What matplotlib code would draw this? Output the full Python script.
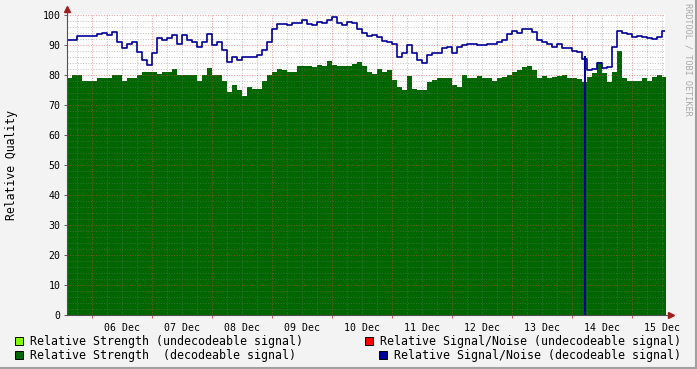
import numpy as np
import matplotlib
matplotlib.use('Agg')
import matplotlib.pyplot as plt
from matplotlib.patches import Rectangle
from matplotlib.lines import Line2D

plt.rcParams['font.family'] = ['DejaVu Sans Mono']

# ---- data (2-hour samples, time in days since 05 Dec 00:00) ----
start_day = 0.588
step_days = 2 / 24

strength_decodeable = [
    79, 80, 80, 78, 78, 78, 79, 79, 79, 80,
    80, 78, 79, 79, 80, 81, 81, 81, 80.5, 81,
    81, 82, 80, 80, 80, 80, 78, 80, 82.5, 80,
    80, 78, 74.5, 76.7, 75, 73, 76, 75.5, 75.5, 78,
    80, 81, 82, 81.7, 81, 81, 83, 83, 83, 82.8,
    83.3, 83, 84.8, 83.3, 83, 83, 83, 83.7, 84.4, 83,
    81, 80.5, 81.9, 81, 81.7, 78.3, 76, 75, 79.7, 75.5,
    75, 75, 77.8, 78.3, 78.9, 78.9, 78.9, 76.7, 76, 80,
    78.9, 78.9, 79.7, 78.9, 78.9, 78.1, 78.9, 79.4, 80, 81.1,
    81.7, 82.6, 83, 81.7, 78.9, 79.7, 78.9, 79.4, 79.7, 80,
    78.9, 78.9, 78.6, 77.8, 79.4, 80.6, 84.4, 80.6, 77.8, 81.1,
    88, 78.9, 78.1, 78.1, 78.1, 78.9, 78.1, 79.4, 80, 79.4,
]

snr_decodeable = [
    91.7, 91.7, 93, 93, 93, 93, 93.7, 94, 93.3, 94.5,
    91, 89, 90.5, 91, 87.8, 85, 83.3, 87.2, 92.2, 91.7,
    92.2, 93.3, 90.5, 93.3, 91.7, 91, 89.4, 91, 93.7, 90,
    91, 88.3, 84.4, 86, 85, 86, 86, 86, 86.7, 88.3,
    91, 95.2, 97, 97, 96.7, 97.4, 97.4, 98.3, 97, 96.7,
    97.8, 97.4, 98.3, 99.2, 97.2, 96.7, 97.8, 97.2, 95.5, 93.9,
    93, 93.3, 92.8, 91.4, 91, 90.5, 86, 87.4, 90, 87.2,
    85, 83.9, 86.7, 87.4, 87.4, 88.9, 89.2, 87.4, 89.4, 90,
    90.3, 90.5, 90, 90, 90.3, 90.3, 91.1, 91.7, 93.7, 94.8,
    94.1, 95.5, 95.5, 94.4, 91.7, 91.1, 90.5, 89.4, 90.5, 88.9,
    88.9, 88.1, 87.8, 85.2, 81.7, 81.9, 83.9, 82.2, 82.8, 89.4,
    94.7, 94.1, 93.7, 92.8, 93, 92.8, 92.2, 91.9, 92.8, 94.8,
]

# short drop-out of the S/N series to zero
snr_dropout_day = [9.222]
snr_dropout_from = [86.5]

day_labels = ['06 Dec', '07 Dec', '08 Dec', '09 Dec', '10 Dec',
              '11 Dec', '12 Dec', '13 Dec', '14 Dec', '15 Dec']

legend_items = [
    ('Relative Strength (undecodeable signal)', '#7FFF00'),
    ('Relative Strength  (decodeable signal)', '#006600'),
    ('Relative Signal/Noise (undecodeable signal)', '#FF0000'),
    ('Relative Signal/Noise (decodeable signal)', '#000099'),
]

W, H = 697, 369
fig = plt.figure(figsize=(W / 100, H / 100), dpi=100, facecolor='#F3F3F3')
x0, x1, yb, yt = 67, 665, 315, 13.5
ax = fig.add_axes([x0 / W, 1 - yb / H, (x1 - x0) / W, (yb - yt) / H])
ax.set_facecolor('white')
xmin = start_day
xmax = start_day + (x1 - x0) / 60.0
ax.set_xlim(xmin, xmax)
ax.set_ylim(0, 100.5)

n = len(strength_decodeable)
edges = start_day + np.arange(n + 1) * step_days
g = np.append(strength_decodeable, strength_decodeable[-1])
b = np.append(snr_decodeable, snr_decodeable[-1])
ax.fill_between(edges, 0, g, step='post', color='#006600', lw=0, zorder=1)

# grid (dotted, drawn over the area like rrdtool)
dots = (0, (1, 1.6))
minor_kw = dict(color='#7A7A7A', lw=0.72, ls=dots, alpha=0.45, zorder=2, snap=True)
major_kw = dict(color='#E04848', lw=0.72, ls=dots, alpha=0.55, zorder=2, snap=True)
for v in np.arange(2, 101, 2):
    ax.axhline(v, **(major_kw if v % 10 == 0 else minor_kw))
for d in np.arange(np.ceil(xmin * 4) / 4, xmax, 0.25):
    ax.axvline(d, **(major_kw if abs(d - round(d)) < 1e-6 else minor_kw))

ax.step(edges, b, where='post', color='#000099', lw=1.2, zorder=3)
ax.vlines(snr_dropout_day, 0, snr_dropout_from, color='#000099', lw=1.5, zorder=3)

for s in ax.spines.values():
    s.set_visible(False)

# ticks
ax.set_yticks(np.arange(0, 101, 10))
ax.set_yticklabels([str(v) for v in range(0, 101, 10)])
ax.tick_params(axis='y', length=2.5, width=0.7, color='#606060', pad=2, labelsize=7.1)
ax.set_xticks(np.arange(1, 11))
ax.set_xticklabels([''] * 10)
ax.set_xticks(np.arange(1.5, 11.0, 1.0), minor=True)
ax.set_xticklabels(day_labels, minor=True)
ax.tick_params(axis='x', which='major', length=2.5, width=0.7, color='#D06060')
ax.tick_params(axis='x', which='minor', length=0, pad=6, labelsize=7.1)

# axes lines with arrows
axis_c = '#505050'
fig.add_artist(Line2D([x0 / W, x0 / W], [1 - yb / H, 1 - 9 / H], color=axis_c, lw=0.8))
fig.add_artist(Line2D([x0 / W, 670 / W], [1 - yb / H, 1 - yb / H], color=axis_c, lw=0.8))
fig.add_artist(Line2D([x0 / W], [1 - 9 / H], marker='^', ms=4, color='#A02020', lw=0))
fig.add_artist(Line2D([671 / W], [1 - yb / H], marker='>', ms=4, color='#A02020', lw=0))

# labels
fig.text(12 / W, 1 - 165 / H, 'Relative Quality', rotation=90, ha='center', va='center', fontsize=8.3)
fig.text(688 / W, 1 - 59 / H, 'RRDTOOL / TOBI OETIKER', rotation=270, ha='center', va='center',
         fontsize=6.1, color='#A8A8A8')

# legend
def square(xp, yc, color):
    fig.add_artist(Rectangle((xp / W, 1 - (yc + 4) / H), 8 / W, 8 / H, transform=fig.transFigure,
                             facecolor=color, edgecolor='black', lw=0.7))

fs_leg = 8.4
square(15, 341, legend_items[0][1])
fig.text(30 / W, 1 - 341 / H, legend_items[0][0], ha='left', va='center', fontsize=fs_leg)
square(15, 355, legend_items[1][1])
fig.text(30 / W, 1 - 355 / H, legend_items[1][0], ha='left', va='center', fontsize=fs_leg)
square(365, 341, legend_items[2][1])
fig.text(681 / W, 1 - 341 / H, legend_items[2][0], ha='right', va='center', fontsize=fs_leg)
square(379, 355, legend_items[3][1])
fig.text(681 / W, 1 - 355 / H, legend_items[3][0], ha='right', va='center', fontsize=fs_leg)

# image frame
fig.add_artist(Line2D([0, 1], [1 / H, 1 / H], color='#A0A0A0', lw=1.5))
fig.add_artist(Line2D([1 - 1 / W, 1 - 1 / W], [0, 1], color='#A0A0A0', lw=1.5))

fig.savefig('out.png', dpi=100, facecolor=fig.get_facecolor())
